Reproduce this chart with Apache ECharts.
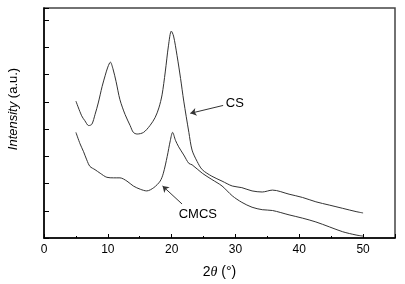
<!DOCTYPE html>
<html>
<head>
<meta charset="utf-8">
<script src="https://cdn.jsdelivr.net/npm/echarts@6/dist/echarts.min.js"></script>
<style>
html,body{margin:0;padding:0;background:#fff;}
#main{width:405px;height:284px;}
</style>
</head>
<body>
<div id="main"></div>
<script>
//2theta 和强度 (CS)
var csX=[5.0,5.9,6.4,7.0,7.5,8.0,8.5,9.1,9.6,10.0,10.4,10.8,11.3,11.9,12.7,13.5,14.0,14.6,15.6,16.6,17.4,18.0,18.5,19.0,19.5,19.95,20.3,20.85,21.4,21.9,22.7,23.2,24.0,24.8,26.3,27.9,29.5,31.0,32.6,34.2,35.8,38.4,40.5,42.6,44.7,46.8,48.9,50.0];
var csY=[5.03,4.49,4.31,4.13,4.18,4.54,4.96,5.56,5.98,6.28,6.46,6.22,5.74,5.08,4.54,4.13,3.88,3.82,3.88,4.13,4.42,4.78,5.26,6.10,7.06,7.60,7.42,6.70,5.86,5.03,3.88,3.23,2.81,2.51,2.27,2.09,1.91,1.85,1.73,1.69,1.76,1.61,1.49,1.33,1.21,1.09,0.97,0.92];
//CMCS
var cmX=[5.0,5.65,6.2,6.7,7.2,8.0,8.8,9.85,10.9,11.9,13.0,14.0,15.1,16.1,17.2,18.2,18.7,19.3,19.8,20.15,20.6,21.1,21.9,22.7,23.2,24.8,26.3,27.9,29.5,31.0,32.6,34.2,35.8,38.4,40.5,42.6,44.7,46.8,48.9,50.0];
var cmY=[3.88,3.46,3.17,2.87,2.63,2.51,2.38,2.23,2.21,2.21,2.09,1.91,1.79,1.73,1.85,2.09,2.38,2.99,3.59,3.88,3.59,3.35,3.05,2.74,2.69,2.38,2.15,1.91,1.55,1.31,1.13,1.04,1.01,0.85,0.73,0.59,0.41,0.23,0.11,0.07];

function pairs(xs,ys){
	var out=[];
	for(var i=0;i<xs.length;i++){
		out.push([xs[i],ys[i]]);
	}
	return out;
}

var myChart=echarts.init(document.getElementById('main'));
var labelFont={fontFamily:'Liberation Sans, Arial',fontSize:12,color:'#000'};
var option={
	animation:false,
	grid:{left:44,right:10,top:8,bottom:41,show:true,borderColor:'#444',borderWidth:1.5,backgroundColor:'#fff'},
	xAxis:{
		type:'value',min:0,max:55,interval:10,
		name:'2{i|θ} (°)',nameLocation:'middle',nameGap:27,
		nameTextStyle:{fontFamily:'Liberation Sans, Arial',fontSize:14,color:'#000',
			rich:{i:{fontStyle:'italic',fontFamily:'Liberation Serif, Times New Roman',fontSize:14,color:'#000'}}},
		axisLine:{onZero:false,lineStyle:{color:'#000',width:1.5}},
		axisTick:{inside:true,length:4,lineStyle:{color:'#000'}},
		minorTick:{show:true,splitNumber:2,length:2,lineStyle:{color:'#000'}},
		axisLabel:Object.assign({margin:6,showMaxLabel:false},labelFont),
		splitLine:{show:false}
	},
	yAxis:{
		type:'value',min:0,max:8.45,interval:1,
		axisLine:{show:true,onZero:false,lineStyle:{color:'#000',width:1.5}},
		axisTick:{show:true,inside:true,length:5,lineStyle:{color:'#000'}},
		axisLabel:{show:false},
		splitLine:{show:false}
	},
	graphic:[{
		type:'text',x:13,y:109,rotation:Math.PI/2,
		style:{text:'{i|Intensity} (a.u.)',align:'center',verticalAlign:'middle',
			fontFamily:'Liberation Sans, Arial',fontSize:13,fill:'#000',
			rich:{i:{fontStyle:'italic',fontFamily:'Liberation Sans, Arial',fontSize:13,fill:'#000'}}}
	}],
	series:[{
		name:'CS',type:'line',data:pairs(csX,csY),showSymbol:false,smooth:0.3,
		lineStyle:{color:'#333',width:1},
		markLine:{silent:true,symbol:['none','arrow'],symbolSize:6,
			lineStyle:{color:'#333',width:1,type:'solid'},label:{show:false},
			data:[[{coord:[28.07,4.87]},{coord:[22.93,4.58]}]]},
		markPoint:{symbol:'circle',symbolSize:0,
			label:{show:true,formatter:'CS',fontSize:13,fontFamily:'Liberation Sans, Arial',color:'#000'},
			data:[{coord:[29.9,4.96]}]}
	},{
		name:'CMCS',type:'line',data:pairs(cmX,cmY),showSymbol:false,smooth:0.3,
		lineStyle:{color:'#333',width:1},
		markLine:{silent:true,symbol:['none','arrow'],symbolSize:6,
			lineStyle:{color:'#333',width:1,type:'solid'},label:{show:false},
			data:[[{coord:[21.63,1.25]},{coord:[18.58,1.91]}]]},
		markPoint:{symbol:'circle',symbolSize:0,
			label:{show:true,formatter:'CMCS',fontSize:13,fontFamily:'Liberation Sans, Arial',color:'#000'},
			data:[{coord:[24.1,0.86]}]}
	}]
};
myChart.setOption(option);
</script>
</body>
</html>
